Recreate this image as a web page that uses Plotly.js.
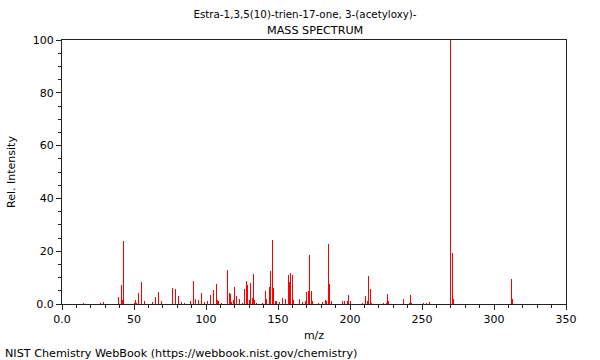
<!DOCTYPE html>
<html>
<head>
<meta charset="utf-8">
<script src="https://cdn.plot.ly/plotly-3.0.1.min.js"></script>
<style>
  html, body { margin: 0; padding: 0; background: #fff; }
  #chart { width: 600px; height: 360px; }
</style>
</head>
<body>
<div id="chart"></div>
<script>
// m/z values and relative intensities (%)
const mz = [15, 27, 29, 39, 41, 42, 43, 50, 51, 52, 53, 55, 57, 63, 65, 67, 69,
  77, 79, 81, 83, 85, 89, 91, 93, 95, 97, 99, 101, 103, 105, 107, 108, 109, 111,
  115, 116, 117, 118, 119, 120, 121, 123, 125, 127, 128, 129, 130, 131, 132, 133, 134, 135,
  139, 141, 142, 144, 145, 146, 147, 148, 149, 151, 153, 155, 157, 158, 159, 160, 161,
  165, 167, 169, 170, 171, 172, 173, 174, 178, 181, 183, 184, 185, 186, 187,
  195, 196, 198, 199, 200, 209, 211, 212, 213, 214, 215, 223, 225, 226, 227,
  237, 241, 242, 243, 251, 253, 255, 270, 271, 272, 312, 313];
const intensity = [0.4, 0.5, 0.8, 2.5, 7.1, 1.5, 23.7, 0.5, 1.5, 0.5, 4.3, 8.5, 1.0, 0.8, 2.8, 4.6, 1.1,
  6.2, 5.5, 3.2, 0.6, 0.5, 1.0, 8.8, 2.0, 1.6, 4.3, 0.9, 1.0, 3.3, 5.2, 7.7, 1.5, 1.0, 0.5,
  12.9, 4.2, 3.8, 0.8, 1.5, 6.3, 3.2, 1.9, 0.5, 5.8, 8.7, 7.3, 1.5, 8.0, 2.4, 11.5, 1.5, 0.5,
  0.5, 4.9, 1.8, 6.6, 12.5, 24.3, 6.0, 1.0, 1.0, 0.8, 2.2, 1.9, 10.8, 8.5, 11.6, 10.8, 1.5,
  2.0, 0.8, 1.0, 4.7, 5.1, 18.5, 5.0, 1.0, 0.5, 0.8, 1.5, 1.3, 22.9, 7.5, 1.0,
  1.0, 1.0, 1.0, 3.4, 1.0, 0.5, 3.1, 1.3, 10.6, 5.7, 0.5, 0.5, 0.5, 3.9, 1.0,
  1.8, 0.5, 3.4, 0.5, 0.4, 0.4, 0.9, 100, 19.3, 2.0, 9.5, 2.0];

const xTickVals = [0, 50, 100, 150, 200, 250, 300, 350];
const xTickText = ["0.0", "50", "100", "150", "200", "250", "300", "350"];
const yTickVals = [0, 20, 40, 60, 80, 100];
const yTickText = ["0.0", "20", "40", "60", "80", "100"];

const FONT = "DejaVu Sans, sans-serif";
const AXIS_COLOR = "#222";

const trace = {
  type: "bar",
  x: mz,
  y: intensity,
  width: 0.7,
  marker: { color: "rgb(255,0,0)", line: { width: 0 } },
  hoverinfo: "x+y"
};

const layout = {
  width: 600,
  height: 360,
  margin: { l: 62, r: 34, t: 40, b: 56 },
  paper_bgcolor: "#ffffff",
  plot_bgcolor: "#ffffff",
  showlegend: false,
  bargap: 0,
  font: { family: FONT, size: 11, color: "#000" },
  title: {
    text: "Estra-1,3,5(10)-trien-17-one, 3-(acetyloxy)-",
    font: { family: FONT, size: 10.3, color: "#000" },
    x: 305 / 600, xref: "container", xanchor: "center",
    y: 1 - 14 / 360, yref: "container", yanchor: "middle"
  },
  xaxis: {
    range: [0, 350],
    tickmode: "array",
    tickvals: xTickVals,
    ticktext: xTickText,
    ticks: "outside",
    ticklen: 5,
    tickwidth: 1,
    tickcolor: AXIS_COLOR,
    minor: { ticks: "outside", ticklen: 3, dtick: 10, tick0: 0, tickcolor: AXIS_COLOR, showgrid: false },
    showline: true,
    linecolor: AXIS_COLOR,
    linewidth: 1,
    mirror: true,
    showgrid: false,
    zeroline: false,
    tickfont: { family: FONT, size: 11, color: "#000" },
    title: { text: "m/z", font: { family: FONT, size: 11, color: "#000" }, standoff: 6 },
    automargin: false,
    fixedrange: true
  },
  yaxis: {
    range: [0, 100],
    tickmode: "array",
    tickvals: yTickVals,
    ticktext: yTickText,
    ticks: "outside",
    ticklen: 5,
    tickwidth: 1,
    tickcolor: AXIS_COLOR,
    minor: { ticks: "outside", ticklen: 3, dtick: 5, tick0: 0, tickcolor: AXIS_COLOR, showgrid: false },
    showline: true,
    linecolor: AXIS_COLOR,
    linewidth: 1,
    mirror: true,
    showgrid: false,
    zeroline: false,
    tickfont: { family: FONT, size: 11, color: "#000" },
    title: { text: "Rel. Intensity", font: { family: FONT, size: 11, color: "#000" }, standoff: 14 },
    automargin: false,
    fixedrange: true
  },
  annotations: [
    {
      text: "MASS SPECTRUM",
      xref: "paper", yref: "paper",
      x: (315 - 62) / 504, y: 1 + (40 - 30) / 264,
      xanchor: "center", yanchor: "middle",
      showarrow: false,
      font: { family: FONT, size: 11.2, color: "#000" }
    },
    {
      text: "NIST Chemistry WebBook (https://webbook.nist.gov/chemistry)",
      xref: "paper", yref: "paper",
      x: (3 - 62) / 504, y: -(353 - 304) / 264,
      xanchor: "left", yanchor: "middle",
      showarrow: false,
      font: { family: FONT, size: 11.2, color: "#000" }
    }
  ]
};

Plotly.newPlot("chart", [trace], layout, { displayModeBar: false, staticPlot: true });
</script>
</body>
</html>
